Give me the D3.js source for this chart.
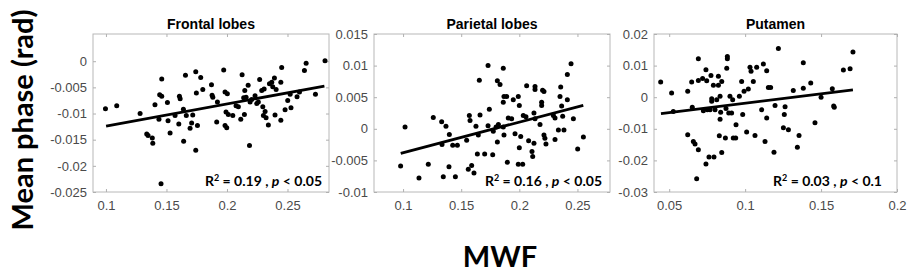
<!DOCTYPE html>
<html>
<head>
<meta charset="utf-8">
<script src="https://cdn.jsdelivr.net/npm/d3@7"></script>
<style>
  body { margin: 0; background: #fff; }
  .tick text { font-family: "Liberation Sans", Arial, sans-serif; font-size: 13px; fill: #4a4a4a; }
  .tick line { stroke: #b0b0b0; }
  .title { font-family: "Liberation Sans", Arial, sans-serif; font-size: 14px; font-weight: bold; }
  .stat { font-family: Lato, "Open Sans", sans-serif; font-size: 14px; font-weight: bold; }
  .big { font-family: Lato, "Open Sans", sans-serif; font-size: 29px; font-weight: bold; }
</style>
</head>
<body>
<svg id="chart" width="914" height="275"></svg>
<script>
// panel titles and stats
let titles = ["Frontal lobes", "Parietal lobes", "Putamen"];
let r2Labels = ["0.19", "0.16", "0.03"];
let pLabels = ["< 0.05", "< 0.05", "< 0.1"];

// axis limits
let xDomains = [[0.0893, 0.2843], [0.075, 0.278], [0.04, 0.2]];
let yDomains = [[-0.025, 0.0052], [-0.01, 0.015], [-0.03, 0.02]];

// tick values and labels
let xTicks = [[0.1, 0.15, 0.2, 0.25], [0.1, 0.15, 0.2, 0.25], [0.05, 0.1, 0.15, 0.2]];
let xTickLabels = [["0.1", "0.15", "0.2", "0.25"], ["0.1", "0.15", "0.2", "0.25"], ["0.05", "0.1", "0.15", "0.2"]];
let yTicks = [[-0.025, -0.02, -0.015, -0.01, -0.005, 0],
              [-0.01, -0.005, 0, 0.005, 0.01, 0.015],
              [-0.03, -0.02, -0.01, 0, 0.01, 0.02]];
let yTickLabels = [["-0.025", "-0.02", "-0.015", "-0.01", "-0.005", "0"],
                   ["-0.01", "-0.005", "0", "0.005", "0.01", "0.015"],
                   ["-0.03", "-0.02", "-0.01", "0", "0.01", "0.02"]];

// MWF vs mean phase, frontal lobes
let frontalPoints = [
  [0.0996,-0.0091],[0.1089,-0.0085],[0.1282,-0.0100],[0.1405,-0.0083],[0.1461,-0.0034],[0.1444,-0.0064],
  [0.1461,-0.0067],[0.1438,-0.0111],[0.1337,-0.0139],[0.1348,-0.0142],[0.1383,-0.0147],[0.1387,-0.0157],
  [0.1508,-0.0079],[0.1513,-0.0114],[0.1530,-0.0137],[0.1455,-0.0234],[0.1571,-0.0104],[0.1607,-0.0067],
  [0.1613,-0.0072],[0.1602,-0.0120],[0.1642,-0.0153],[0.1640,-0.0092],[0.1657,-0.0027],[0.1664,-0.0104],
  [0.1695,-0.0128],[0.1708,-0.0118],[0.1717,-0.0103],[0.1742,-0.0020],[0.1783,-0.0031],[0.1747,-0.0061],
  [0.1800,-0.0054],[0.1742,-0.0170],[0.1756,-0.0123],[0.1872,-0.0045],[0.1877,-0.0065],[0.1883,-0.0069],
  [0.1921,-0.0078],[0.1915,-0.0116],[0.1973,-0.0017],[0.1984,-0.0059],[0.2003,-0.0062],[0.1992,-0.0097],
  [0.2011,-0.0102],[0.2048,-0.0104],[0.1984,-0.0123],[0.1998,-0.0127],[0.2075,-0.0085],[0.2094,-0.0087],
  [0.2114,-0.0111],[0.2125,-0.0026],[0.2144,-0.0102],[0.2147,-0.0056],[0.2158,-0.0069],[0.2175,-0.0046],
  [0.2138,-0.0070],[0.2186,-0.0161],[0.2191,-0.0078],[0.2204,-0.0073],[0.2232,-0.0066],[0.2246,-0.0081],
  [0.2270,-0.0035],[0.2259,-0.0078],[0.2287,-0.0056],[0.2296,-0.0087],[0.2307,-0.0053],[0.2301,-0.0104],
  [0.2315,-0.0096],[0.2323,-0.0108],[0.2342,-0.0122],[0.2351,-0.0043],[0.2370,-0.0040],[0.2392,-0.0032],
  [0.2406,-0.0054],[0.2378,-0.0049],[0.2445,-0.0040],[0.2452,-0.0012],[0.2397,-0.0103],[0.2445,-0.0113],
  [0.2480,-0.0093],[0.2502,-0.0075],[0.2522,-0.0063],[0.2529,-0.0089],[0.2579,-0.0068],[0.2599,-0.0059],
  [0.2640,-0.0018],[0.2654,-0.0004],[0.2731,-0.0063],[0.2810,0.0001]
];

// parietal lobes
let parietalPoints = [
  [0.0979,-0.0059],[0.1017,0.0003],[0.1137,-0.0078],[0.1217,-0.0056],[0.1260,0.0018],[0.1332,0.0011],
  [0.1369,0.0004],[0.1398,-0.0009],[0.1335,-0.0025],[0.1346,-0.0076],[0.1395,-0.0060],[0.1427,-0.0026],
  [0.1467,-0.0026],[0.1450,-0.0076],[0.1547,-0.0018],[0.1570,0.0021],[0.1576,0.0013],[0.1561,-0.0064],
  [0.1590,-0.0058],[0.1610,-0.0070],[0.1627,0.0004],[0.1639,-0.0040],[0.1662,0.0022],[0.1656,0.0077],
  [0.1647,-0.0010],[0.1702,-0.0040],[0.1731,0.0100],[0.1742,0.0031],[0.1731,0.0005],[0.1771,-0.0041],
  [0.1776,-0.0004],[0.1811,0.0076],[0.1834,0.0070],[0.1862,0.0096],[0.1800,0.0003],[0.1820,0.0007],
  [0.1862,0.0003],[0.1868,-0.0010],[0.1868,0.0051],[0.1891,0.0051],[0.1862,0.0042],[0.1905,0.0017],
  [0.1934,0.0016],[0.1948,0.0046],[0.1991,0.0051],[0.2000,0.0037],[0.1963,-0.0008],[0.2012,-0.0012],
  [0.1811,-0.0021],[0.1897,-0.0053],[0.2000,-0.0030],[0.1991,-0.0056],[0.2029,-0.0056],[0.2034,0.0021],
  [0.2057,0.0019],[0.2063,0.0068],[0.2080,-0.0019],[0.2126,-0.0023],[0.2109,-0.0036],[0.2115,-0.0044],
  [0.2126,0.0025],[0.2135,0.0016],[0.2135,0.0067],[0.2135,0.0062],[0.2178,0.0007],[0.2192,0.0042],
  [0.2192,0.0037],[0.2200,0.0061],[0.2212,0.0059],[0.2212,-0.0010],[0.2220,-0.0015],[0.2229,-0.0024],
  [0.2293,0.0021],[0.2307,0.0017],[0.2307,-0.0017],[0.2336,-0.0002],[0.2356,0.0066],[0.2350,0.0051],
  [0.2364,0.0036],[0.2373,0.0020],[0.2384,-0.0002],[0.2413,0.0046],[0.2413,0.0086],[0.2445,0.0103],
  [0.2465,0.0016],[0.2502,-0.0032],[0.2551,-0.0013]
];

// putamen
let putamenPoints = [
  [0.0444,0.0048],[0.0516,0.0013],[0.0527,-0.0045],[0.0622,0.0019],[0.0648,0.0048],[0.0652,-0.0032],
  [0.0622,-0.0119],[0.0659,-0.0140],[0.0670,-0.0148],[0.0692,0.0122],[0.0692,0.0053],[0.0692,-0.0166],
  [0.0681,-0.0258],[0.0720,0.0059],[0.0725,-0.0043],[0.0742,0.0087],[0.0747,0.0052],[0.0742,-0.0211],
  [0.0762,-0.0189],[0.0751,-0.0040],[0.0769,-0.0040],[0.0775,0.0069],[0.0780,-0.0005],[0.0780,-0.0013],
  [0.0791,0.0038],[0.0795,-0.0189],[0.0802,-0.0040],[0.0813,-0.0008],[0.0824,0.0066],[0.0824,0.0038],
  [0.0835,-0.0070],[0.0835,0.0003],[0.0839,-0.0048],[0.0846,0.0050],[0.0846,-0.0175],[0.0830,-0.0122],
  [0.0870,-0.0129],[0.0879,0.0092],[0.0883,0.0129],[0.0883,0.0122],[0.0874,-0.0036],[0.0892,-0.0050],
  [0.0900,0.0003],[0.0918,-0.0008],[0.0911,-0.0050],[0.0940,-0.0087],[0.0922,-0.0129],[0.0938,-0.0129],
  [0.0962,0.0003],[0.0977,0.0050],[0.0984,-0.0055],[0.0993,0.0019],[0.1010,-0.0110],[0.1021,0.0026],
  [0.1032,0.0095],[0.1039,0.0082],[0.1054,0.0050],[0.1065,-0.0121],[0.1076,0.0095],[0.1109,-0.0040],
  [0.1120,0.0105],[0.1131,-0.0140],[0.1142,0.0084],[0.1142,-0.0066],[0.1153,0.0031],[0.1168,0.0031],
  [0.1190,-0.0174],[0.1197,-0.0026],[0.1219,0.0154],[0.1263,-0.0030],[0.1258,-0.0055],[0.1252,-0.0097],
  [0.1285,-0.0103],[0.1317,0.0021],[0.1355,-0.0121],[0.1344,-0.0158],[0.1383,0.0109],[0.1383,0.0028],
  [0.1432,0.0045],[0.1460,-0.0081],[0.1500,0.0000],[0.1574,0.0027],[0.1583,-0.0028],[0.1587,-0.0032],
  [0.1647,0.0086],[0.1691,0.0090],[0.1710,0.0143]
];

// fitted regression lines (end points)
let frontalFit = [[0.1001, -0.0124], [0.2805, -0.00475]];
let parietalFit = [[0.098, -0.00388], [0.255, 0.00372]];
let putamenFit = [[0.0446, -0.0052], [0.171, 0.0023]];

let allPoints = [frontalPoints, parietalPoints, putamenPoints];
let allFits = [frontalFit, parietalFit, putamenFit];

// layout
let svg = d3.select("#chart");
let plotTop = 34, plotBottom = 192;
let lefts = [93, 374, 654];
let rights = [329, 610, 897];
let statRight = [322, 602, 882];

svg.append("rect").attr("width", 914).attr("height", 275).attr("fill", "#fff");

for (let i = 0; i < 3; i++) {
    let g = svg.append("g");

    let xScale = d3.scaleLinear().domain(xDomains[i]).range([lefts[i], rights[i]]);
    let yScale = d3.scaleLinear().domain(yDomains[i]).range([plotBottom, plotTop]);

    // box
    g.append("rect")
        .attr("x", lefts[i]).attr("y", plotTop)
        .attr("width", rights[i] - lefts[i]).attr("height", plotBottom - plotTop)
        .attr("fill", "none").attr("stroke", "#b8b8b8").attr("stroke-width", 1);

    // axes, ticks inward like matlab
    let xAxis = d3.axisBottom(xScale).tickValues(xTicks[i])
        .tickFormat((d, k) => xTickLabels[i][k])
        .tickSizeInner(-3).tickSizeOuter(0).tickPadding(9);
    g.append("g").attr("transform", "translate(0," + plotBottom + ")").call(xAxis);

    let xAxisTop = d3.axisTop(xScale).tickValues(xTicks[i]).tickFormat("")
        .tickSizeInner(-3).tickSizeOuter(0);
    g.append("g").attr("transform", "translate(0," + plotTop + ")").call(xAxisTop);

    let yAxis = d3.axisLeft(yScale).tickValues(yTicks[i])
        .tickFormat((d, k) => yTickLabels[i][k])
        .tickSizeInner(-3).tickSizeOuter(0).tickPadding(6);
    g.append("g").attr("transform", "translate(" + lefts[i] + ",0)").call(yAxis);

    let yAxisRight = d3.axisRight(yScale).tickValues(yTicks[i]).tickFormat("")
        .tickSizeInner(-3).tickSizeOuter(0);
    g.append("g").attr("transform", "translate(" + rights[i] + ",0)").call(yAxisRight);

    g.selectAll(".domain").remove();

    // points
    g.selectAll("circle")
        .data(allPoints[i])
        .enter().append("circle")
        .attr("cx", d => xScale(d[0]))
        .attr("cy", d => yScale(d[1]))
        .attr("r", 2.5)
        .attr("fill", "#000");

    // fit line
    g.append("line")
        .attr("x1", xScale(allFits[i][0][0])).attr("y1", yScale(allFits[i][0][1]))
        .attr("x2", xScale(allFits[i][1][0])).attr("y2", yScale(allFits[i][1][1]))
        .attr("stroke", "#000").attr("stroke-width", 2.8);

    // title
    g.append("text").attr("class", "title")
        .attr("x", (lefts[i] + rights[i]) / 2).attr("y", 29)
        .attr("text-anchor", "middle")
        .text(titles[i]);

    // stats label
    let stat = g.append("text").attr("class", "stat")
        .attr("x", statRight[i]).attr("y", 186)
        .attr("text-anchor", "end");
    stat.append("tspan").text("R");
    stat.append("tspan").attr("dy", -5).attr("font-size", "9px").text("2");
    stat.append("tspan").attr("dy", 5).text(" = " + r2Labels[i] + " , ");
    stat.append("tspan").attr("font-style", "italic").text("p");
    stat.append("tspan").text(" " + pLabels[i]);
}

// shared axis labels
svg.append("text").attr("class", "big")
    .attr("transform", "translate(33,120) rotate(-90)")
    .attr("text-anchor", "middle")
    .text("Mean phase (rad)");

svg.append("text").attr("class", "big")
    .attr("x", 500).attr("y", 267)
    .attr("text-anchor", "middle")
    .text("MWF");
</script>
</body>
</html>
